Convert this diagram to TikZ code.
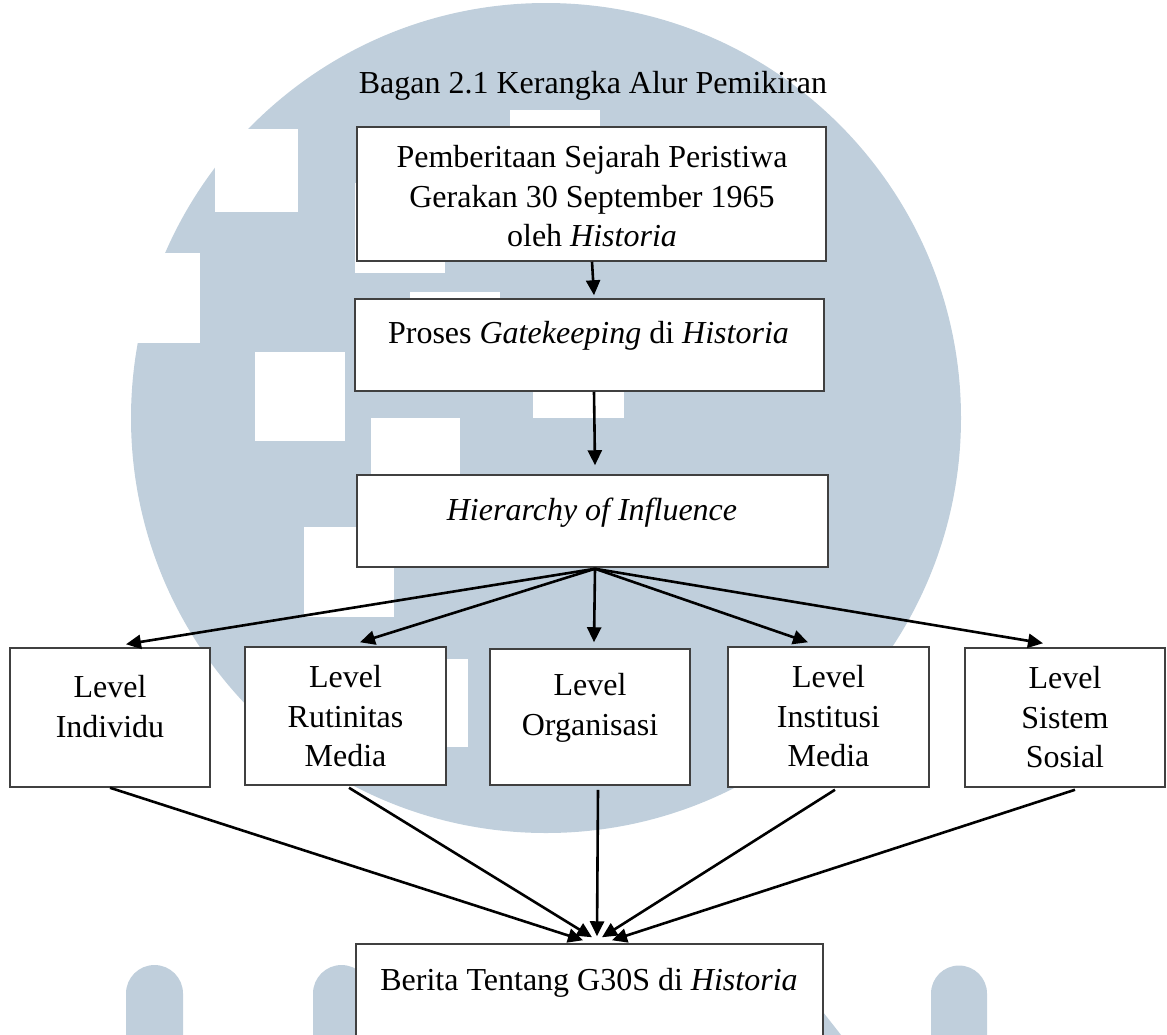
\documentclass[tikz,border=0pt]{standalone}
\usepackage{fontspec}
\setmainfont{Liberation Serif}
\usetikzlibrary{arrows.meta,calc}
\definecolor{wm}{RGB}{192,207,220}
\definecolor{edge}{RGB}{64,64,64}
\begin{document}
\begin{tikzpicture}[x=0.5pt,y=-0.5pt,
  box/.style={draw=edge,line width=0.75pt,fill=white,inner sep=0pt},
  txt/.style={inner sep=0pt,align=center,font=\fontsize{16}{19.75}\selectfont},
  arr/.style={-{Triangle[length=7.5pt,width=7pt]},line width=1.3pt,black},
  wsq/.style={fill=white,draw=none}]
\useasboundingbox (0,0) rectangle (1167,1034);
\clip (0,0) rectangle (1167,1034);
% watermark
\fill[wm] (546,418) circle[radius=207.5pt];
\fill[wsq] (510,110) rectangle (600,200);
\fill[wsq] (215,129) rectangle (298,212);
\fill[wsq] (80,253) rectangle (200,343);
\fill[wsq] (255,352) rectangle (345,441);
\fill[wsq] (355,183) rectangle (445,273);
\fill[wsq] (410,292) rectangle (500,381);
\fill[wsq] (533,328) rectangle (624,418);
\fill[wsq] (371,418) rectangle (460,508);
\fill[wsq] (304,527) rectangle (394,617);
\fill[wsq] (378,659) rectangle (468,747);
\fill[wm] (126,1060) -- (126,993.5) arc[start angle=180,end angle=0,radius=14.25pt] -- (183,1060) -- cycle;
\fill[wm] (313,1060) -- (313,993.5) arc[start angle=180,end angle=0,radius=14.25pt] -- (370,1060) -- cycle;
\fill[wm] (931,1060) -- (931,993.5) arc[start angle=180,end angle=0,radius=14pt] -- (987,1060) -- cycle;
\fill[wm] (823,1012) -- (845,1040) -- (823,1040) -- cycle;
% title
\node[txt,anchor=base] (title) at (593,93) {Bagan 2.1 Kerangka Alur Pemikiran};
% boxes
\node[box,minimum width=234.5pt,minimum height=67pt] (b1) at (591.5,194) {};
\node[box,minimum width=234.5pt,minimum height=46pt] (b2) at (589.5,345) {};
\node[box,minimum width=235.5pt,minimum height=46pt] (b3) at (592.5,521) {};
\node[box,minimum width=100pt,minimum height=69.5pt] (l1) at (110,717.5) {};
\node[box,minimum width=100.5pt,minimum height=69pt] (l2) at (345.5,716) {};
\node[box,minimum width=100pt,minimum height=68pt] (l3) at (590,717) {};
\node[box,minimum width=100.5pt,minimum height=70pt] (l4) at (828.5,717) {};
\node[box,minimum width=100pt,minimum height=69.5pt] (l5) at (1065,717.5) {};
\node[box,minimum width=233.5pt,minimum height=58pt] (b4) at (589.5,1002) {};
% texts
\node[txt,anchor=north] (t1) at (592,145) {Pemberitaan Sejarah Peristiwa\\Gerakan 30 September 1965\\oleh \textit{Historia}};
\node[txt,anchor=base] (t2) at (588.5,343) {Proses \textit{Gatekeeping} di \textit{Historia}};
\node[txt,anchor=base] (t3) at (592,520) {\textit{Hierarchy of Influence}};
\node[txt,anchor=north] (tl1) at (110,675) {Level\\Individu};
\node[txt,anchor=north] (tl2) at (345.5,665) {Level\\Rutinitas\\Media};
\node[txt,anchor=north] (tl3) at (590,673) {Level\\Organisasi};
\node[txt,anchor=north] (tl4) at (828.5,665) {Level\\Institusi\\Media};
\node[txt,anchor=north] (tl5) at (1065,666) {Level\\Sistem\\Sosial};
\node[txt,anchor=base] (t4) at (589,990) {Berita Tentang G30S di \textit{Historia}};
% connectors
\draw[arr] ($(b1.south)+(0.5,0)$) -- ($(b2.north)+(4.5,-3)$);
\draw[arr] ($(b2.south)+(4.5,0)$) -- ($(b3.north)+(2.5,-9)$);
\coordinate (fan) at ($(b3.south)+(2.5,1)$);
\draw[arr] (fan) -- ($(l1.north)+(16,-3)$);
\draw[arr] (fan) -- ($(l2.north)+(14.5,-4)$);
\draw[arr] (fan) -- ($(l3.north)+(4,-6)$);
\draw[arr] (fan) -- ($(l4.north)+(-20.5,-4)$);
\draw[arr] (fan) -- ($(l5.north)+(-22,-4)$);
\draw[arr] ($(l1.south)+(0,0)$) -- ($(b4.north)+(-6.5,-3)$);
\draw[arr] ($(l2.south)+(3.5,2)$) -- ($(b4.north)+(2.5,-6)$);
\draw[arr] ($(l3.south)+(8,4)$) -- ($(b4.north)+(7.5,-7)$);
\draw[arr] ($(l4.south)+(6.5,2)$) -- ($(b4.north)+(12.5,-6)$);
\draw[arr] ($(l5.south)+(10,2)$) -- ($(b4.north)+(22.5,-3)$);
\end{tikzpicture}
\end{document}
